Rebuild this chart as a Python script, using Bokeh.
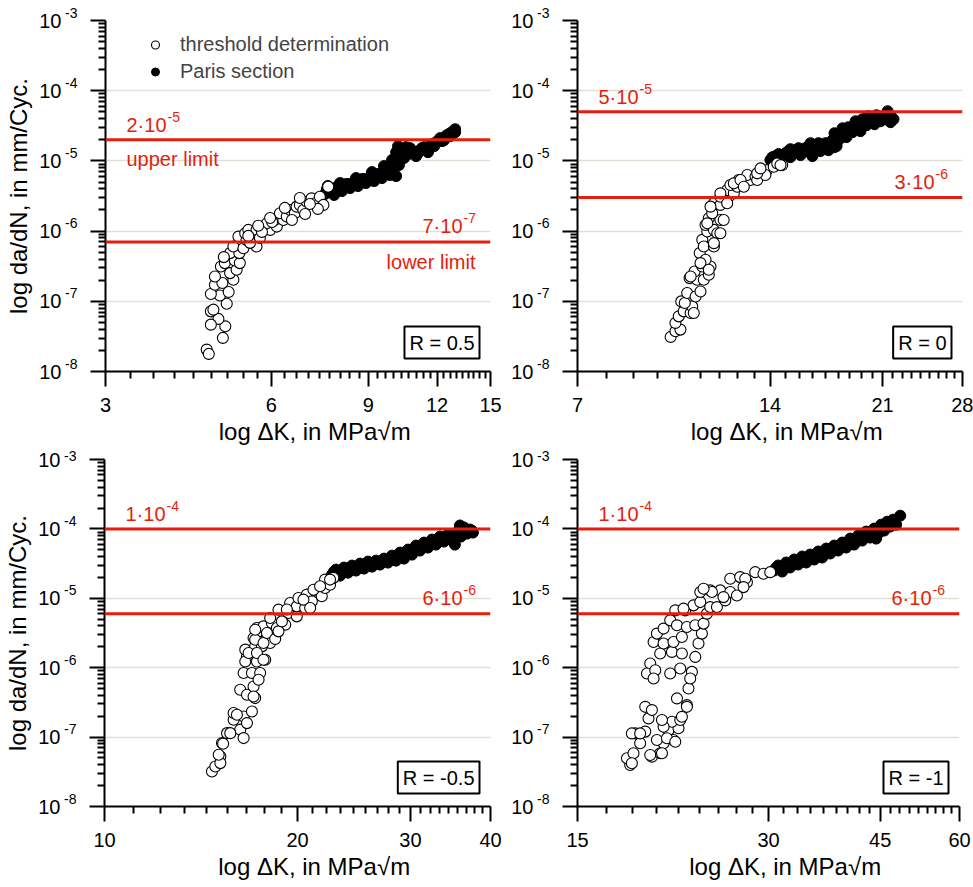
import math
from bokeh.plotting import figure
from bokeh.models import (Range1d, FixedTicker, CustomJSTickFormatter, Span, Label,
                          Legend, LegendItem, LogAxis)
from bokeh.layouts import column, row
from bokeh.embed import file_html
from bokeh.resources import INLINE

FONT = "Liberation Sans"
RED = "#e41e0c"
GRID = "#e0e0d4"

# ------------------------------------------------------------------ data
y_ticks = [1e-8, 1e-7, 1e-6, 1e-5, 1e-4, 1e-3]
y_tick_base = "10"
y_tick_exps = ["-8", "-7", "-6", "-5", "-4", "-3"]

x_ticks = [[3, 6, 9, 12, 15], [7, 14, 21, 28], [10, 20, 30, 40], [15, 30, 45, 60]]
r_labels = ["R = 0.5", "R = 0", "R = -0.5", "R = -1"]
upper_limits = [2e-5, 5e-5, 1e-4, 1e-4]
lower_limits = [7e-7, 3e-6, 6e-6, 6e-6]
legend_labels = ["threshold determination", "Paris section"]
x_label = "log ΔK, in MPa√m"
y_label = "log da/dN, in mm/Cyc."

# Panel 1, R = 0.5
p1_thr_dk = [4.58, 4.62, 4.90, 4.95, 4.81, 4.66, 4.66, 4.71, 4.98, 4.84, 5.02, 4.66, 4.74, 4.89,
             5.12, 5.05, 4.74, 4.86, 4.94, 5.19, 5.15, 5.05, 5.26, 4.92, 5.25, 5.12, 5.34, 5.23,
             5.41, 5.38, 5.57, 5.64, 5.45, 5.64, 5.80, 5.97, 5.89, 6.14, 6.09, 6.31, 6.22, 6.40,
             6.49, 6.62, 6.67, 6.76, 6.86, 6.96, 7.10, 7.20, 7.35, 7.46, 7.61, 5.72, 5.49, 6.54,
             6.91, 7.29, 6.02, 5.77, 6.76, 6.35, 5.97, 5.68, 5.45, 7.05]
p1_thr_dadn = [2.05e-8, 1.78e-8, 3.01e-8, 4.40e-8, 5.61e-8, 4.65e-8, 7.19e-8, 7.60e-8, 9.24e-8,
               1.21e-7, 1.36e-7, 1.27e-7, 1.72e-7, 1.82e-7, 2.03e-7, 2.52e-7, 2.26e-7, 3.13e-7,
               3.50e-7, 2.81e-7, 3.81e-7, 4.86e-7, 3.50e-7, 4.26e-7, 4.86e-7, 6.02e-7, 5.71e-7,
               8.35e-7, 7.50e-7, 9.34e-7, 8.83e-7, 6.02e-7, 1.04e-6, 1.04e-6, 1.16e-6, 1.04e-6,
               1.29e-6, 1.16e-6, 1.44e-6, 1.44e-6, 1.80e-6, 1.61e-6, 2.00e-6, 1.80e-6, 2.23e-6,
               2.36e-6, 2.00e-6, 2.62e-6, 2.93e-6, 2.49e-6, 3.09e-6, 2.36e-6, 4.29e-6, 8.00e-7,
               6.80e-7, 1.44e-6, 1.75e-6, 2.07e-6, 1.35e-6, 9.74e-7, 2.96e-6, 2.14e-6, 1.54e-6,
               1.19e-6, 8.55e-7, 2.43e-6]
p1_paris_dk = [7.51, 7.67, 7.80, 7.93, 8.06, 8.20, 8.34, 8.48, 8.62, 8.77, 8.91, 9.07, 9.22, 9.37,
               9.53, 9.69, 9.86, 10.02, 10.11, 10.23, 9.94, 10.11, 10.19, 10.36, 10.45, 10.63,
               10.81, 10.99, 11.17, 11.36, 11.55, 11.75, 11.95, 12.15, 12.35, 12.51, 12.67, 12.83,
               12.94, 9.61, 9.14, 8.55, 8.00, 7.60, 10.72, 10.28,
               7.57, 7.86, 8.13, 8.27, 8.41, 8.55, 8.69, 8.84, 8.99, 9.14, 9.30, 9.45, 9.77, 9.94,
               10.45, 10.54, 10.90, 11.08, 11.26, 11.45, 11.65, 11.85, 12.05, 12.25, 12.45, 12.67,
               12.78, 12.94]
p1_paris_dadn = [3.38e-6, 3.85e-6, 3.27e-6, 4.39e-6, 3.72e-6, 4.68e-6, 4.11e-6, 5.00e-6, 4.39e-6,
                 5.51e-6, 4.84e-6, 5.89e-6, 5.16e-6, 6.49e-6, 5.70e-6, 7.16e-6, 6.29e-6, 7.90e-6,
                 6.08e-6, 8.72e-6, 1.03e-5, 1.33e-5, 1.62e-5, 1.42e-5, 1.10e-5, 1.25e-5, 1.38e-5,
                 1.17e-5, 1.42e-5, 1.57e-5, 1.33e-5, 1.73e-5, 1.85e-5, 2.11e-5, 1.97e-5, 2.33e-5,
                 2.48e-5, 2.65e-5, 2.83e-5, 8.44e-6, 6.93e-6, 5.70e-6, 4.84e-6, 4.39e-6, 1.52e-5,
                 1.03e-5,
                 3.98e-6, 4.11e-6, 4.11e-6, 4.68e-6, 4.53e-6, 5.00e-6, 5.00e-6, 5.51e-6, 5.34e-6,
                 6.08e-6, 5.89e-6, 6.49e-6, 7.16e-6, 7.40e-6, 1.33e-5, 1.57e-5, 1.33e-5, 1.29e-5,
                 1.52e-5, 1.42e-5, 1.62e-5, 1.62e-5, 1.91e-5, 1.91e-5, 2.25e-5, 2.25e-5, 2.48e-5,
                 2.56e-5]

# Panel 2, R = 0
p2_thr_dk = [9.79, 9.96, 10.14, 9.96, 10.08, 10.26, 10.17, 10.52, 10.58, 10.30, 10.39, 10.71,
             10.90, 10.48, 10.77, 11.03, 10.67, 10.97, 11.30, 11.23, 10.87, 11.10, 10.97, 11.03,
             11.44, 11.17, 11.10, 11.44, 11.58, 11.71, 11.23, 11.37, 11.44, 11.71, 11.85, 12.07,
             11.71, 12.00, 12.29, 12.14, 12.44, 12.74, 12.51, 13.05, 12.90, 13.29, 13.53, 13.37,
             13.86, 13.77, 14.19, 14.37, 14.63, 10.64, 10.52, 10.90, 11.23, 11.44, 11.17, 11.71,
             11.30, 11.85, 11.71, 12.00, 12.29, 12.59, 12.74, 13.37, 13.53, 14.54]
p2_thr_dadn = [3.11e-8, 3.74e-8, 3.95e-8, 4.92e-8, 6.10e-8, 7.19e-8, 9.97e-8, 6.82e-8, 8.46e-8,
               9.46e-8, 1.31e-7, 1.17e-7, 1.38e-7, 2.14e-7, 2.03e-7, 2.03e-7, 2.66e-7, 3.13e-7,
               3.13e-7, 2.39e-7, 4.86e-7, 3.90e-7, 7.50e-7, 6.02e-7, 6.02e-7, 9.84e-7, 1.22e-6,
               1.04e-6, 9.34e-7, 1.44e-6, 1.52e-6, 1.80e-6, 2.49e-6, 2.36e-6, 3.09e-6, 3.09e-6,
               3.09e-6, 3.85e-6, 3.45e-6, 4.53e-6, 4.29e-6, 4.79e-6, 5.34e-6, 5.34e-6, 6.29e-6,
               5.94e-6, 7.00e-6, 5.34e-6, 7.40e-6, 6.29e-6, 8.25e-6, 9.22e-6, 8.72e-6, 6.82e-8,
               2.26e-7, 3.50e-7, 2.81e-7, 6.73e-7, 1.29e-6, 9.34e-7, 2.23e-6, 1.44e-6, 3.45e-6,
               2.49e-6, 4.79e-6, 5.34e-6, 4.29e-6, 6.65e-6, 7.82e-6, 8.72e-6]
p2_paris_dk = [14.02, 14.28, 14.54, 14.80, 15.07, 15.35, 15.63, 15.91, 16.20, 16.49, 16.79, 17.10,
               17.28, 17.53, 17.79, 18.04, 18.18, 18.31, 18.57, 18.84, 19.05, 19.25, 19.53, 19.82,
               19.96, 20.25, 20.54, 20.84, 21.15, 21.45, 21.38, 21.69, 21.84, 16.31, 17.66, 14.37,
               15.07, 16.20, 17.66,
               14.12, 14.44, 14.70, 14.96, 15.24, 15.52, 15.80, 16.08, 16.37, 16.67, 16.91, 17.40,
               17.92, 18.44, 18.70, 19.12, 19.39, 19.67, 20.10, 20.40, 20.69, 21.00, 21.30, 21.61]
p2_paris_dadn = [1.03e-5, 1.17e-5, 1.06e-5, 1.29e-5, 1.13e-5, 1.42e-5, 1.21e-5, 1.52e-5, 1.29e-5,
                 1.62e-5, 1.38e-5, 1.79e-5, 1.42e-5, 1.97e-5, 1.62e-5, 2.18e-5, 2.92e-5, 2.48e-5,
                 3.02e-5, 2.56e-5, 3.67e-5, 2.92e-5, 3.92e-5, 3.22e-5, 4.33e-5, 3.56e-5, 4.47e-5,
                 3.67e-5, 4.33e-5, 3.80e-5, 5.10e-5, 4.19e-5, 3.92e-5, 1.17e-5, 1.57e-5, 9.94e-6,
                 1.47e-5, 1.79e-5, 2.48e-5,
                 1.13e-5, 1.25e-5, 1.17e-5, 1.38e-5, 1.29e-5, 1.52e-5, 1.38e-5, 1.62e-5, 1.47e-5,
                 1.79e-5, 1.57e-5, 1.85e-5, 1.97e-5, 2.18e-5, 2.83e-5, 3.22e-5, 2.65e-5, 3.56e-5,
                 3.92e-5, 3.33e-5, 4.19e-5, 3.92e-5, 4.05e-5, 3.56e-5]

# Panel 3, R = -0.5
p3_thr_dk = [14.71, 14.89, 15.16, 15.25, 15.53, 15.90, 16.28, 15.90, 16.48, 16.98, 16.28, 16.68,
             17.18, 17.08, 16.48, 16.98, 17.49, 17.39, 16.68, 17.29, 17.81, 16.58, 17.18, 17.60,
             17.08, 17.39, 17.92, 18.13, 17.29, 17.70, 18.24, 18.57, 19.14, 18.13, 18.68, 19.36,
             19.95, 19.48, 19.95, 20.56, 20.07, 20.68, 21.31, 21.06, 21.82, 22.08, 22.08, 22.48,
             22.75, 15.16, 15.07, 15.31, 15.71, 16.09, 16.68, 16.48, 17.08, 16.58, 16.78, 17.29,
             17.70, 17.18, 17.70, 17.18, 17.92, 18.46, 18.68, 18.91, 19.25, 20.43, 21.18, 21.69,
             20.93, 22.48]
p3_thr_dadn = [3.19e-8, 3.77e-8, 5.25e-8, 8.20e-8, 1.14e-7, 1.78e-7, 1.28e-7, 2.22e-7, 1.98e-7,
               2.34e-7, 4.81e-7, 4.08e-7, 3.65e-7, 5.37e-7, 8.38e-7, 8.38e-7, 8.38e-7, 6.71e-7,
               1.45e-6, 1.23e-6, 1.30e-6, 1.82e-6, 2.03e-6, 2.03e-6, 2.68e-6, 3.34e-6, 2.83e-6,
               2.27e-6, 3.74e-6, 3.94e-6, 4.41e-6, 3.74e-6, 4.17e-6, 5.21e-6, 6.86e-6, 6.15e-6,
               5.49e-6, 8.57e-6, 7.66e-6, 7.26e-6, 1.01e-5, 1.13e-5, 1.33e-5, 9.04e-6, 1.07e-5,
               1.41e-5, 1.86e-5, 1.57e-5, 1.97e-5, 4.22e-8, 5.56e-8, 8.01e-8, 1.14e-7, 2.10e-7,
               1.59e-7, 9.68e-8, 3.85e-7, 1.23e-6, 1.63e-6, 1.63e-6, 1.30e-6, 2.53e-6, 2.27e-6,
               3.53e-6, 3.16e-6, 2.59e-6, 3.34e-6, 4.65e-6, 6.90e-6, 9.56e-6, 1.33e-5, 1.49e-5,
               7.26e-6, 1.86e-5]
p3_paris_dk = [22.64, 22.97, 23.30, 23.64, 23.98, 24.33, 24.68, 25.04, 25.40, 25.76, 26.14, 26.51,
               26.90, 27.29, 27.68, 28.08, 28.49, 28.90, 29.32, 29.74, 30.17, 30.61, 31.05, 31.50,
               31.95, 32.41, 32.88, 33.36, 33.84, 34.33, 34.82, 35.20, 35.58, 35.96, 36.35, 36.75,
               37.14, 37.55, 35.84,
               22.80, 23.13, 23.47, 23.81, 24.15, 24.50, 24.86, 25.22, 25.58, 25.95, 26.32, 26.70,
               27.09, 27.48, 27.88, 28.28, 28.69, 29.11, 29.53, 29.95, 30.39, 30.83, 31.27, 31.72,
               32.18, 32.64, 33.12, 33.60, 34.08, 34.57, 36.61, 37.41]
p3_paris_dadn = [2.19e-5, 2.59e-5, 2.12e-5, 2.77e-5, 2.34e-5, 2.96e-5, 2.51e-5, 3.16e-5, 2.68e-5,
                 3.38e-5, 2.86e-5, 3.49e-5, 3.06e-5, 3.73e-5, 3.27e-5, 4.12e-5, 3.49e-5, 4.56e-5,
                 3.73e-5, 5.03e-5, 4.26e-5, 5.75e-5, 4.87e-5, 6.35e-5, 5.38e-5, 7.02e-5, 5.94e-5,
                 7.75e-5, 6.57e-5, 8.28e-5, 7.02e-5, 5.94e-5, 9.15e-5, 7.75e-5, 1.05e-4, 8.56e-5,
                 9.78e-5, 8.85e-5, 1.12e-4,
                 2.42e-5, 2.34e-5, 2.51e-5, 2.59e-5, 2.68e-5, 2.77e-5, 2.86e-5, 2.96e-5, 3.06e-5,
                 3.16e-5, 3.16e-5, 3.38e-5, 3.38e-5, 3.61e-5, 3.73e-5, 3.99e-5, 4.12e-5, 4.26e-5,
                 4.56e-5, 4.87e-5, 5.20e-5, 5.38e-5, 5.75e-5, 5.94e-5, 6.35e-5, 6.57e-5, 7.02e-5,
                 7.25e-5, 7.50e-5, 7.75e-5, 9.46e-5, 9.46e-5]

# Panel 4, R = -1
p4_thr_dk = [18.16, 17.95, 18.38, 18.83, 18.50, 19.18, 19.65, 20.25, 20.50, 21.25, 20.01, 20.87,
             21.64, 21.13, 20.50, 21.78, 19.41, 19.18, 19.65, 21.52, 22.31, 22.44, 22.72, 21.00,
             21.78, 19.53, 19.30, 19.89, 19.77, 20.25, 21.13, 21.91, 23.00, 19.77, 20.50, 21.25,
             21.91, 23.27, 23.56, 20.01, 20.50, 21.00, 21.52, 22.31, 23.00, 23.70, 23.99, 21.39,
             22.18, 22.85, 23.42, 24.28, 24.88, 23.42, 24.28, 25.18, 26.11, 25.64, 26.75, 26.11,
             27.07, 27.74, 28.59, 29.46, 30.19, 27.57, 27.40, 25.48, 24.43, 23.70, 22.04, 22.58,
             22.31, 20.38, 21.91, 18.27, 18.83, 20.75, 21.39, 18.27, 19.53, 20.38]
p4_thr_dadn = [3.97e-8, 4.96e-8, 5.85e-8, 8.15e-8, 1.13e-7, 1.20e-7, 5.23e-8, 5.85e-8, 8.15e-8,
               9.08e-8, 9.08e-8, 1.26e-7, 1.34e-7, 1.66e-7, 1.41e-7, 1.76e-7, 1.86e-7, 2.73e-7,
               2.45e-7, 3.61e-7, 2.89e-7, 5.02e-7, 8.70e-7, 8.25e-7, 9.74e-7, 1.15e-6, 8.25e-7,
               9.21e-7, 7.00e-7, 1.60e-6, 1.69e-6, 1.60e-6, 1.43e-6, 2.35e-6, 2.23e-6, 2.35e-6,
               2.77e-6, 2.23e-6, 3.10e-6, 3.10e-6, 3.66e-6, 4.81e-6, 4.08e-6, 3.86e-6, 4.08e-6,
               4.32e-6, 6.01e-6, 6.70e-6, 6.70e-6, 7.91e-6, 8.82e-6, 7.47e-6, 7.47e-6, 1.23e-5,
               1.30e-5, 1.30e-5, 1.23e-5, 9.33e-6, 1.10e-5, 1.91e-5, 2.02e-5, 1.71e-5, 2.38e-5,
               2.26e-5, 2.38e-5, 1.91e-5, 1.45e-5, 1.04e-5, 1.23e-5, 1.37e-5, 7.09e-6, 7.00e-7,
               2.73e-7, 1.76e-7, 1.96e-7, 1.13e-7, 1.13e-7, 9.61e-8, 8.59e-8, 4.20e-8, 5.53e-8,
               5.85e-8]
p4_paris_dk = [30.63, 31.07, 31.53, 31.99, 32.46, 32.93, 33.41, 33.90, 34.40, 34.90, 35.41, 35.93,
               36.45, 36.99, 37.53, 38.08, 38.63, 39.20, 39.77, 40.35, 40.94, 41.54, 42.15, 42.76,
               43.39, 44.02, 44.66, 45.15, 45.65, 46.15, 46.65, 47.16, 47.68, 48.39, 44.34,
               30.85, 31.30, 31.76, 32.22, 32.69, 33.17, 33.65, 34.15, 34.65, 35.15, 35.67, 36.19,
               36.72, 37.26, 37.80, 38.35, 38.91, 39.48, 40.06, 40.64, 41.24, 41.84, 42.45, 43.07,
               43.70, 44.34, 44.98, 45.98, 46.99]
p4_paris_dadn = [2.52e-5, 2.97e-5, 2.43e-5, 3.28e-5, 2.78e-5, 3.62e-5, 3.07e-5, 4.00e-5, 3.28e-5,
                 4.27e-5, 3.62e-5, 4.72e-5, 3.87e-5, 5.21e-5, 4.42e-5, 5.75e-5, 4.88e-5, 6.35e-5,
                 5.39e-5, 7.25e-5, 5.95e-5, 8.01e-5, 6.79e-5, 9.15e-5, 7.50e-5, 1.01e-4, 8.56e-5,
                 1.15e-4, 9.45e-5, 1.27e-4, 1.08e-4, 1.36e-4, 1.15e-4, 1.55e-4, 7.25e-5,
                 2.78e-5, 2.69e-5, 2.87e-5, 3.07e-5, 3.17e-5, 3.39e-5, 3.51e-5, 3.74e-5, 3.87e-5,
                 4.13e-5, 4.27e-5, 4.56e-5, 4.72e-5, 5.04e-5, 5.21e-5, 5.57e-5, 5.75e-5, 6.15e-5,
                 6.57e-5, 6.79e-5, 7.25e-5, 7.75e-5, 8.28e-5, 8.56e-5, 9.15e-5, 9.77e-5, 1.04e-4,
                 1.12e-4, 1.23e-4]

panels = [
    (p1_thr_dk, p1_thr_dadn, p1_paris_dk, p1_paris_dadn),
    (p2_thr_dk, p2_thr_dadn, p2_paris_dk, p2_paris_dadn),
    (p3_thr_dk, p3_thr_dadn, p3_paris_dk, p3_paris_dadn),
    (p4_thr_dk, p4_thr_dadn, p4_paris_dk, p4_paris_dadn),
]


# ------------------------------------------------------------------ helpers
def x_minor(ticks):
    out = []
    for a, b in zip(ticks[:-1], ticks[1:]):
        step = (b - a) / 9.0
        out += [a + k * step for k in range(1, 9)]
    return out


y_minor = [k * t for t in y_ticks[:-1] for k in range(2, 10)]


def sci(v):
    e = int(math.floor(math.log10(v) + 1e-9))
    m = int(round(v / 10 ** e))
    return f"{m}·10", f"{e}"


def txt(p, x, y, text, size, align, xo, yo, color=RED, baseline="alphabetic"):
    p.add_layout(Label(x=x, y=y, text=text, x_offset=xo, y_offset=yo,
                       text_align=align, text_baseline=baseline,
                       text_font=FONT, text_font_size=size, text_color=color))


def bare_axis(ax):
    ax.major_tick_out = 0
    ax.major_tick_in = 0
    ax.minor_tick_out = 0
    ax.minor_tick_in = 0
    ax.axis_line_color = None
    ax.major_tick_line_color = None
    ax.minor_tick_line_color = None
    ax.major_label_text_font = FONT
    ax.major_label_text_color = "black"


def make_panel(i, width, height, bl, br, bt, bb, show_ylabel, with_legend):
    thr_x, thr_y, par_x, par_y = panels[i]
    xt = x_ticks[i]
    p = figure(width=width, height=height, x_axis_type="log", y_axis_type="log",
               x_range=Range1d(xt[0], xt[-1]), y_range=Range1d(y_ticks[0], y_ticks[-1]),
               output_backend="svg", toolbar_location=None, title=None,
               min_border_left=bl, min_border_right=br, min_border_top=bt, min_border_bottom=bb)
    p.outline_line_color = None
    p.background_fill_color = "white"
    p.border_fill_color = "white"
    p.xgrid.visible = False
    p.ygrid.ticker = FixedTicker(ticks=y_ticks[1:-1])
    p.ygrid.grid_line_color = GRID
    p.ygrid.grid_line_width = 1.5

    xa = p.xaxis[0]
    ya = p.yaxis[0]
    xa.ticker = FixedTicker(ticks=xt, minor_ticks=x_minor(xt))
    xa.formatter = CustomJSTickFormatter(code="return String(Math.round(tick));")
    ya.ticker = FixedTicker(ticks=y_ticks, minor_ticks=y_minor)
    ya.formatter = CustomJSTickFormatter(code="return '';")
    for ax in (xa, ya):
        ax.axis_line_width = 2
        ax.axis_line_color = "black"
        ax.major_tick_line_width = 2
        ax.minor_tick_line_width = 2
        ax.major_tick_line_color = "black"
        ax.minor_tick_line_color = "black"
        ax.major_tick_out = 15
        ax.major_tick_in = 0
        ax.minor_tick_out = 7
        ax.minor_tick_in = 0
        ax.major_label_text_font = FONT
        ax.major_label_text_font_size = "20px"
        ax.major_label_text_color = "black"
        ax.axis_label_text_font = FONT
        ax.axis_label_text_font_size = "24px"
        ax.axis_label_text_font_style = "normal"
        ax.axis_label_text_color = "black"
    # non-breaking spaces nudge the centred label to the right, as in the original
    xa.axis_label = "\u00a0" * 5 + x_label
    xa.major_label_standoff = 11
    xa.axis_label_standoff = 3
    ya.major_label_standoff = 0

    # decade labels: exponent column (raised, as superscript) next to the frame,
    # then the "10" column further out
    sup_ax = LogAxis(ticker=FixedTicker(ticks=y_ticks),
                     formatter=CustomJSTickFormatter(
                         args=dict(labels=y_tick_exps, first=y_ticks[0]),
                         code="return labels[Math.round(Math.log10(tick / first))] + '\\n';"))
    bare_axis(sup_ax)
    sup_ax.major_label_text_font_size = "14px"
    sup_ax.major_label_text_line_height = 1.0
    sup_ax.major_label_standoff = 13
    p.add_layout(sup_ax, "left")

    base_ax = LogAxis(ticker=FixedTicker(ticks=y_ticks),
                      formatter=CustomJSTickFormatter(args=dict(base=y_tick_base),
                                                      code="return base;"))
    bare_axis(base_ax)
    base_ax.major_label_text_font_size = "20px"
    base_ax.major_label_standoff = 1
    if show_ylabel:
        base_ax.axis_label = y_label
        base_ax.axis_label_standoff = 4
        base_ax.axis_label_text_font = FONT
        base_ax.axis_label_text_font_size = "24px"
        base_ax.axis_label_text_font_style = "normal"
        base_ax.axis_label_text_color = "black"
    p.add_layout(base_ax, "left")

    r_par = p.scatter(par_x, par_y, marker="circle", size=11, fill_color="black",
                      line_color="black", line_width=1)
    r_thr = p.scatter(thr_x, thr_y, marker="circle", size=11, fill_color="white",
                      line_color="black", line_width=1.1)

    up, lo = upper_limits[i], lower_limits[i]
    for v in (up, lo):
        p.add_layout(Span(location=v, dimension="width", line_color=RED, line_width=3))

    m, e = sci(up)
    txt(p, xt[0], up, m, "20px", "right", 61, 15)
    txt(p, xt[0], up, e, "14px", "left", 62, 23)
    m, e = sci(lo)
    txt(p, xt[-1], lo, m, "20px", "right", -28, 16)
    txt(p, xt[-1], lo, e, "14px", "left", -27, 24)
    if i == 0:
        txt(p, xt[0], up, "upper limit", "20px", "left", 21, -19)
        txt(p, xt[-1], lo, "lower limit", "20px", "right", -15, -20)

    pad = 5
    p.add_layout(Label(x=xt[-1], y=y_ticks[0], text=r_labels[i], x_offset=-(6 + pad),
                       y_offset=8 + pad, text_align="right", text_baseline="bottom",
                       text_font=FONT, text_font_size="20px", text_color="black",
                       border_line_color="black", border_line_width=2,
                       background_fill_color="white", padding=pad))

    if with_legend:
        leg = Legend(items=[LegendItem(label=legend_labels[0], renderers=[r_thr]),
                            LegendItem(label=legend_labels[1], renderers=[r_par])],
                     location=(40, 286), border_line_color=None, background_fill_alpha=0,
                     label_text_font=FONT, label_text_font_size="20px",
                     glyph_width=20, glyph_height=27, label_height=27, label_standoff=15,
                     spacing=0, padding=0, margin=0)
        p.add_layout(leg)
    return p


p1 = make_panel(0, 505, 447, 105, 15, 20, 75, True, True)
p2 = make_panel(1, 468, 447, 72, 11, 20, 75, False, False)
p3 = make_panel(2, 505, 438, 104, 15, 12, 79, True, False)
p4 = make_panel(3, 468, 438, 72, 14, 12, 79, False, False)

layout = column(row(p1, p2), row(p3, p4))
open("out.html", "w").write(file_html(layout, INLINE))
